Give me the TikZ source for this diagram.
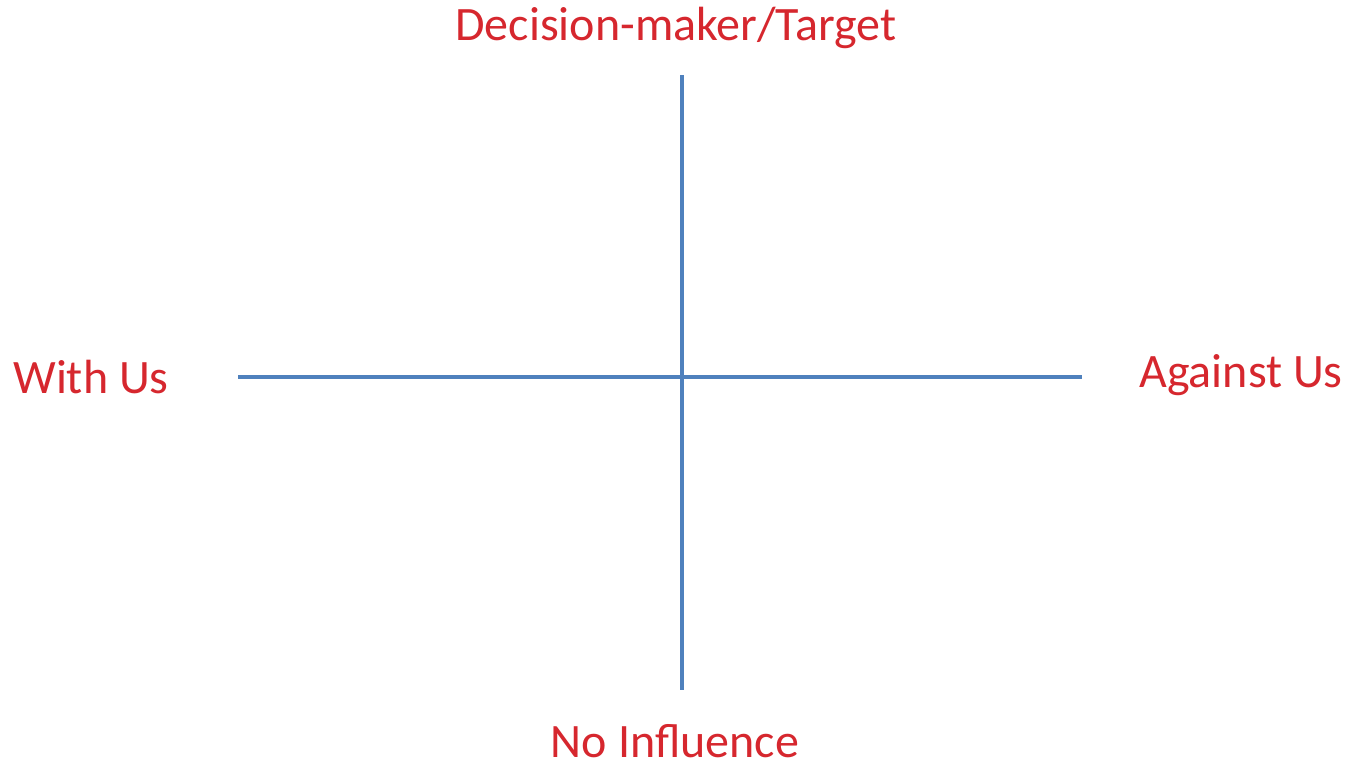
\documentclass[tikz,border=0pt]{standalone}
\usepackage{fontspec}
\setmainfont{Carlito}
\definecolor{axisblue}{RGB}{79,129,189}
\definecolor{labelred}{RGB}{214,39,46}
\begin{document}
\begin{tikzpicture}[x=1pt,y=-1pt,
  axis/.style={draw=axisblue,line width=4pt},
  lbl/.style={text=labelred,font=\fontsize{48}{56}\selectfont,inner sep=0pt,anchor=base}]
\useasboundingbox (0,0) rectangle (1351,764);
\coordinate (top) at (682,75);
\coordinate (bottom) at (682,690);
\coordinate (left) at (238,377);
\coordinate (right) at (1082,377);
\draw[axis] (top) -- (bottom);
\draw[axis] (left) -- (right);
\node[lbl] (dm) at (676,40) {Decision-maker/Target};
\node[lbl] (with) at (91,393) {With Us};
\node[lbl] (against) at (1241,387) {Against Us};
\node[lbl,text depth=0pt] (noinf) at (675,757) {No Influence};
\end{tikzpicture}
\end{document}
